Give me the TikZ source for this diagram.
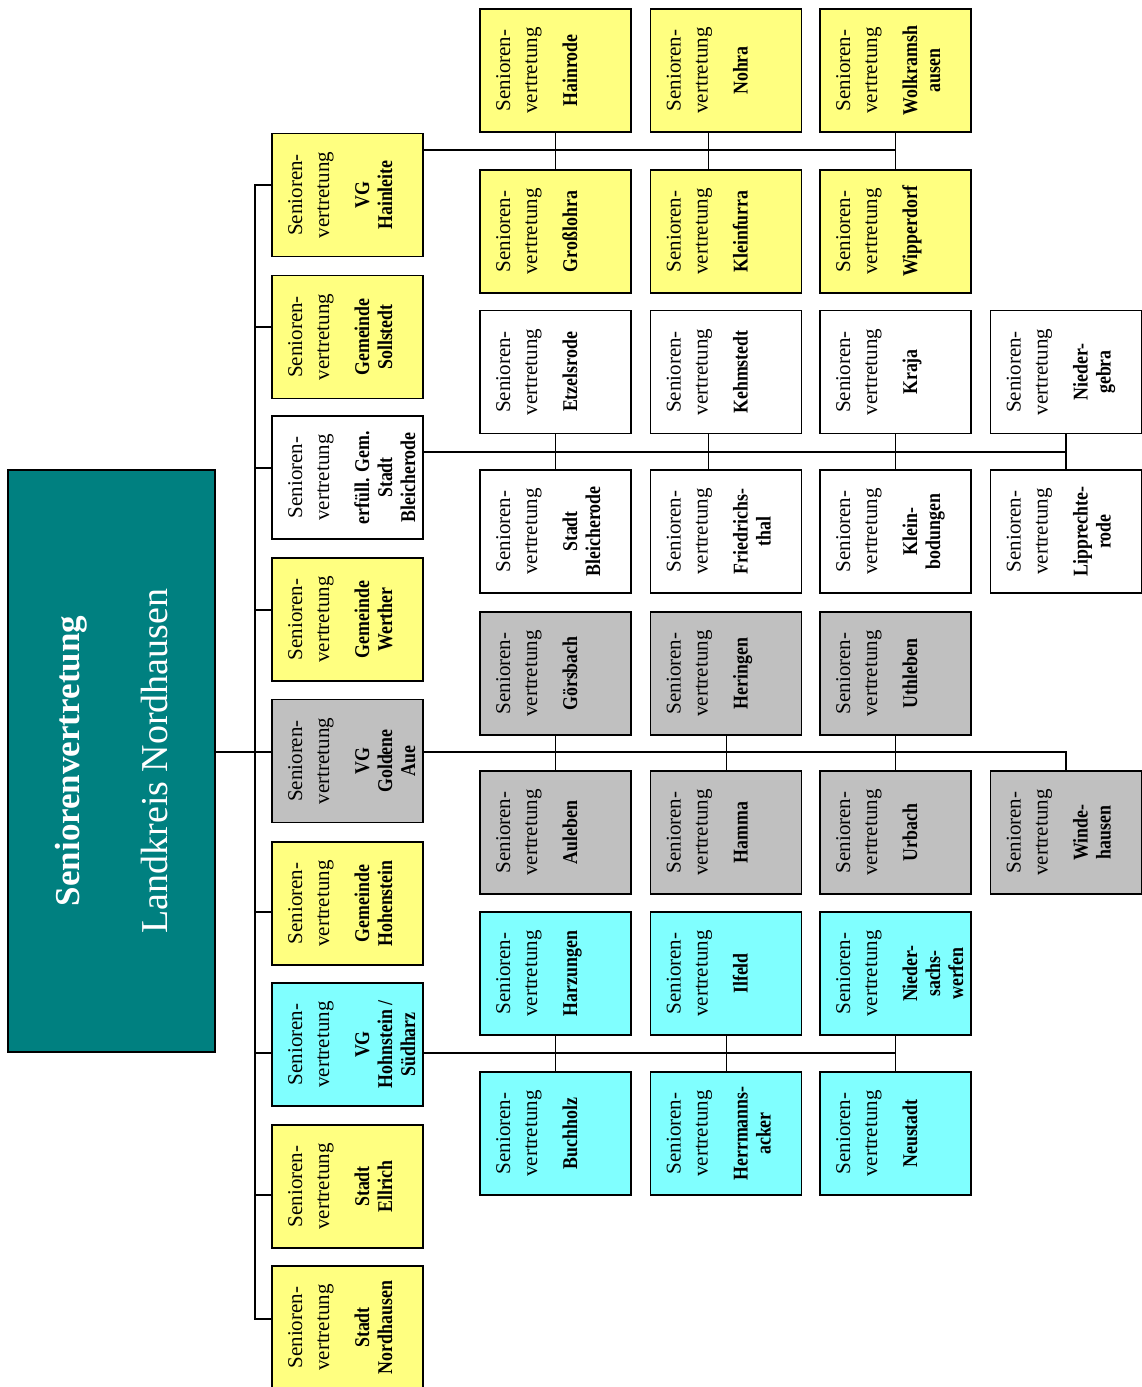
\documentclass[tikz,border=0pt]{standalone}
\usepackage{fontspec}
\setmainfont{Liberation Serif}
\newfontfamily\svname[FakeStretch=0.85]{Liberation Serif Bold}
\usepackage{graphicx}
\usepackage{tikz}
\usetikzlibrary{positioning}
\definecolor{svyellow}{RGB}{255,255,128}
\definecolor{svcyan}{RGB}{128,255,255}
\definecolor{svgray}{RGB}{192,192,192}
\definecolor{svteal}{RGB}{0,128,128}
\newcommand{\svtext}[1]{\rotatebox{90}{\parbox[c][151pt][t]{123pt}{\centering
    \fontsize{21}{27}\selectfont\rule{0pt}{30pt}Senioren-\\vertretung\par
    \vspace{17pt}\fontsize{21}{23}\svname #1\par}}}
\tikzset{
    svbox/.style={draw=black,line width=1.5pt,inner sep=0pt,outer sep=0pt},
    link/.style={line width=1.2pt,black}
}

\begin{document}
\begin{tikzpicture}[x=1pt,y=-1pt]
            \useasboundingbox (0,0) rectangle (1141,1387);
            % root
            \node[svbox,fill=svteal,text=white,minimum width=207pt,minimum height=582pt] (root) at (111.5,761)
                {\rotatebox{90}{\parbox{520pt}{\centering\fontsize{35}{88}\selectfont\bfseries Seniorenvertretung\\
                \fontsize{38}{88}\selectfont\mdseries Landkreis Nordhausen}}};
            % first level
            \node[svbox,fill=svyellow] (hainleite) at (347.5,195) {\svtext{VG\\Hainleite}};
            \node[svbox,fill=svyellow] (sollstedt) at (347.5,337) {\svtext{Gemeinde\\Sollstedt}};
            \node[svbox,fill=white] (bleicherode) at (347.5,477.5) {\svtext{erfüll. Gem.\\Stadt\\Bleicherode}};
            \node[svbox,fill=svyellow] (werther) at (347.5,619.5) {\svtext{Gemeinde\\Werther}};
            \node[svbox,fill=svgray] (goldene) at (347.5,761) {\svtext{VG\\Goldene\\Aue}};
            \node[svbox,fill=svyellow] (hohenstein) at (347.5,903.5) {\svtext{Gemeinde\\Hohenstein}};
            \node[svbox,fill=svcyan] (hohnstein) at (347.5,1044.5) {\svtext{VG\\Hohnstein /\\Südharz}};
            \node[svbox,fill=svyellow] (ellrich) at (347.5,1186.5) {\svtext{Stadt\\Ellrich}};
            \node[svbox,fill=svyellow] (nordhausen) at (347.5,1327.5) {\svtext{Stadt\\Nordhausen}};
            % VG Hainleite
            \node[svbox,fill=svyellow] (hainrode) at (555.7,70.5) {\svtext{Hainrode}};
            \node[svbox,fill=svyellow] (nohra) at (726.2,70.5) {\svtext{Nohra}};
            \node[svbox,fill=svyellow] (wolkramshausen) at (895.6,70.5) {\svtext{Wolkramsh\\ausen}};
            \node[svbox,fill=svyellow] (grosslohra) at (555.7,231.5) {\svtext{Großlohra}};
            \node[svbox,fill=svyellow] (kleinfurra) at (726.2,231.5) {\svtext{Kleinfurra}};
            \node[svbox,fill=svyellow] (wipperdorf) at (895.6,231.5) {\svtext{Wipperdorf}};
            % erfuellende Gemeinde Bleicherode
            \node[svbox,fill=white] (etzelsrode) at (555.7,372) {\svtext{Etzelsrode}};
            \node[svbox,fill=white] (kehmstedt) at (726.2,372) {\svtext{Kehmstedt}};
            \node[svbox,fill=white] (kraja) at (895.6,372) {\svtext{Kraja}};
            \node[svbox,fill=white] (niedergebra) at (1066,372) {\svtext{Nieder-\\gebra}};
            \node[svbox,fill=white] (stadtbleicherode) at (555.7,531.5) {\svtext{Stadt\\Bleicherode}};
            \node[svbox,fill=white] (friedrichsthal) at (726.2,531.5) {\svtext{Friedrichs-\\thal}};
            \node[svbox,fill=white] (kleinbodungen) at (895.6,531.5) {\svtext{Klein-\\bodungen}};
            \node[svbox,fill=white] (lipprechterode) at (1066,531.5) {\svtext{Lipprechte-\\rode}};
            % VG Goldene Aue
            \node[svbox,fill=svgray] (goersbach) at (555.7,673.5) {\svtext{Görsbach}};
            \node[svbox,fill=svgray] (heringen) at (726.2,673.5) {\svtext{Heringen}};
            \node[svbox,fill=svgray] (uthleben) at (895.6,673.5) {\svtext{Uthleben}};
            \node[svbox,fill=svgray] (auleben) at (555.7,832.5) {\svtext{Auleben}};
            \node[svbox,fill=svgray] (hamma) at (726.2,832.5) {\svtext{Hamma}};
            \node[svbox,fill=svgray] (urbach) at (895.6,832.5) {\svtext{Urbach}};
            \node[svbox,fill=svgray] (windehausen) at (1066,832.5) {\svtext{Winde-\\hausen}};
            % VG Hohnstein / Suedharz
            \node[svbox,fill=svcyan] (harzungen) at (555.7,973.5) {\svtext{Harzungen}};
            \node[svbox,fill=svcyan] (ilfeld) at (726.2,973.5) {\svtext{Ilfeld}};
            \node[svbox,fill=svcyan] (niedersachswerfen) at (895.6,973.5) {\svtext{Nieder-\\sachs-\\werfen}};
            \node[svbox,fill=svcyan] (buchholz) at (555.7,1133.5) {\svtext{Buchholz}};
            \node[svbox,fill=svcyan] (herrmannsacker) at (726.2,1133.5) {\svtext{Herrmanns-\\acker}};
            \node[svbox,fill=svcyan] (neustadt) at (895.6,1133.5) {\svtext{Neustadt}};

            % trunk
            \coordinate (trunk) at (255,752);
            \draw[link] ([yshift=9pt]root.east) -- (trunk);
            \draw[link] ([yshift=10pt]hainleite.west) -| (trunk);
            \draw[link] ([yshift=10pt]sollstedt.west) -| (trunk);
            \draw[link] ([yshift=9.5pt]bleicherode.west) -| (trunk);
            \draw[link] ([yshift=9.5pt]werther.west) -| (trunk);
            \draw[link] ([yshift=9pt]goldene.west) -| (trunk);
            \draw[link] ([yshift=-8.5pt]hohenstein.west) -| (trunk);
            \draw[link] ([yshift=-8.5pt]hohnstein.west) -| (trunk);
            \draw[link] ([yshift=-8.5pt]ellrich.west) -| (trunk);
            \draw[link] ([yshift=8.5pt]nordhausen.west) -| (trunk);

            % groups
            \draw[link] ([yshift=45pt]hainleite.east) -| (wolkramshausen.south);
            \draw[link] (hainrode.south) -- (grosslohra.north);
            \draw[link] ([xshift=-18pt]nohra.south) -- ([xshift=-18pt]kleinfurra.north);
            \draw[link] (wolkramshausen.south) -- (wipperdorf.north);

            \draw[link] ([yshift=25.5pt]bleicherode.east) -| (niedergebra.south);
            \draw[link] (etzelsrode.south) -- (stadtbleicherode.north);
            \draw[link] ([xshift=-18pt]kehmstedt.south) -- ([xshift=-18pt]friedrichsthal.north);
            \draw[link] (kraja.south) -- (kleinbodungen.north);
            \draw[link] (niedergebra.south) -- (lipprechterode.north);

            \draw[link] ([yshift=9pt]goldene.east) -| (windehausen.north);
            \draw[link] (goersbach.south) -- (auleben.north);
            \draw[link] (heringen.south) -- (hamma.north);
            \draw[link] (uthleben.south) -- (urbach.north);

            \draw[link] ([yshift=-8.5pt]hohnstein.east) -| (niedersachswerfen.south);
            \draw[link] (harzungen.south) -- (buchholz.north);
            \draw[link] (ilfeld.south) -- (herrmannsacker.north);
            \draw[link] (niedersachswerfen.south) -- (neustadt.north);
\end{tikzpicture}
\end{document}
